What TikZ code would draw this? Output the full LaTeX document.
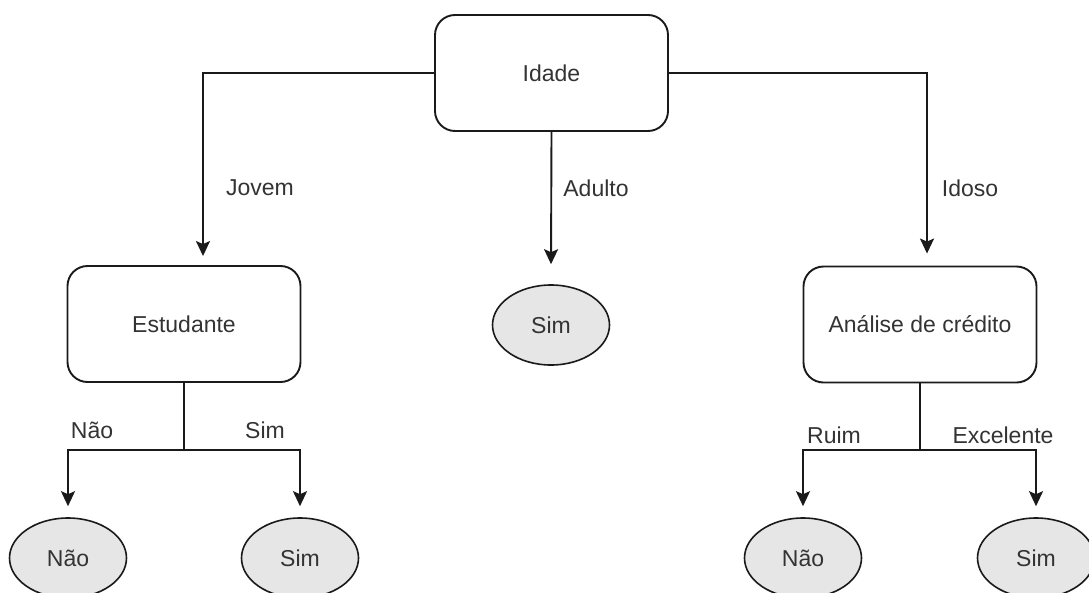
\documentclass[tikz,border=0pt]{standalone}
\usepackage{fontspec}
\setmainfont{Liberation Sans}
\usetikzlibrary{arrows.meta,shapes.geometric}
\definecolor{txt}{HTML}{333333}
\definecolor{ln}{HTML}{1A1A1A}
\definecolor{leaf}{HTML}{E6E6E6}
\tikzset{
  box/.style={draw=ln, line width=1.9pt, rounded corners=20pt, minimum width=233pt, minimum height=116pt, inner sep=0pt, text=txt, font=\fontsize{23}{27}\selectfont},
  leafnode/.style={ellipse, draw=ln, line width=1.6pt, fill=leaf, minimum width=117pt, minimum height=80pt, inner sep=0pt, text=txt, font=\fontsize{23}{27}\selectfont},
  lbl/.style={text=txt, font=\fontsize{23}{27}\selectfont, inner sep=0pt},
  conn/.style={draw=ln, line width=1.9pt},
  arr/.style={conn, -{Stealth[length=15pt, width=14pt, inset=3pt]}}
}
\begin{document}
\begin{tikzpicture}[x=1pt, y=-1pt]
\useasboundingbox (0,0) rectangle (1089,592);
\clip (0,0) rectangle (1089,592);
% nodes
\node[box] (idade) at (551.5,73) {Idade};
\node[box] (estudante) at (184,324) {Estudante};
\node[box] (analise) at (920,324.5) {Análise de crédito};
\node[leafnode] (simA) at (551,325) {Sim};
\node[leafnode] (naoL) at (68,558) {Não};
\node[leafnode] (simL) at (300,558) {Sim};
\node[leafnode] (naoR) at (803,558) {Não};
\node[leafnode] (simR) at (1036,558) {Sim};
% junctions
\coordinate (ej) at (184,450);
\coordinate (aj) at (920,450);
% connectors
\draw[arr] (idade.west) -| ([xshift=19pt, yshift=9pt]estudante.north);
\draw[arr] (idade.south) -- ([yshift=20pt]simA.north);
\draw[arr] (idade.east) -| ([xshift=7pt, yshift=12pt]analise.north);
\draw[conn] (estudante.south) -- (ej);
\draw[arr] (ej) -| ([yshift=11pt]naoL.north);
\draw[arr] (ej) -| ([yshift=11pt]simL.north);
\draw[conn] (analise.south) -- (aj);
\draw[arr] (aj) -| ([yshift=11pt]naoR.north);
\draw[arr] (aj) -| ([yshift=11pt]simR.north);
% labels
\node[lbl] (ljovem) at (260,188) {Jovem};
\node[lbl] (ladulto) at (596,188) {Adulto};
\node[lbl] (lidoso) at (970,188) {Idoso};
\node[lbl] (lnao) at (92,430) {Não};
\node[lbl] (lsim) at (265,430) {Sim};
\node[lbl] (lruim) at (834,435) {Ruim};
\node[lbl] (lexc) at (1003,435) {Excelente};
\end{tikzpicture}
\end{document}
